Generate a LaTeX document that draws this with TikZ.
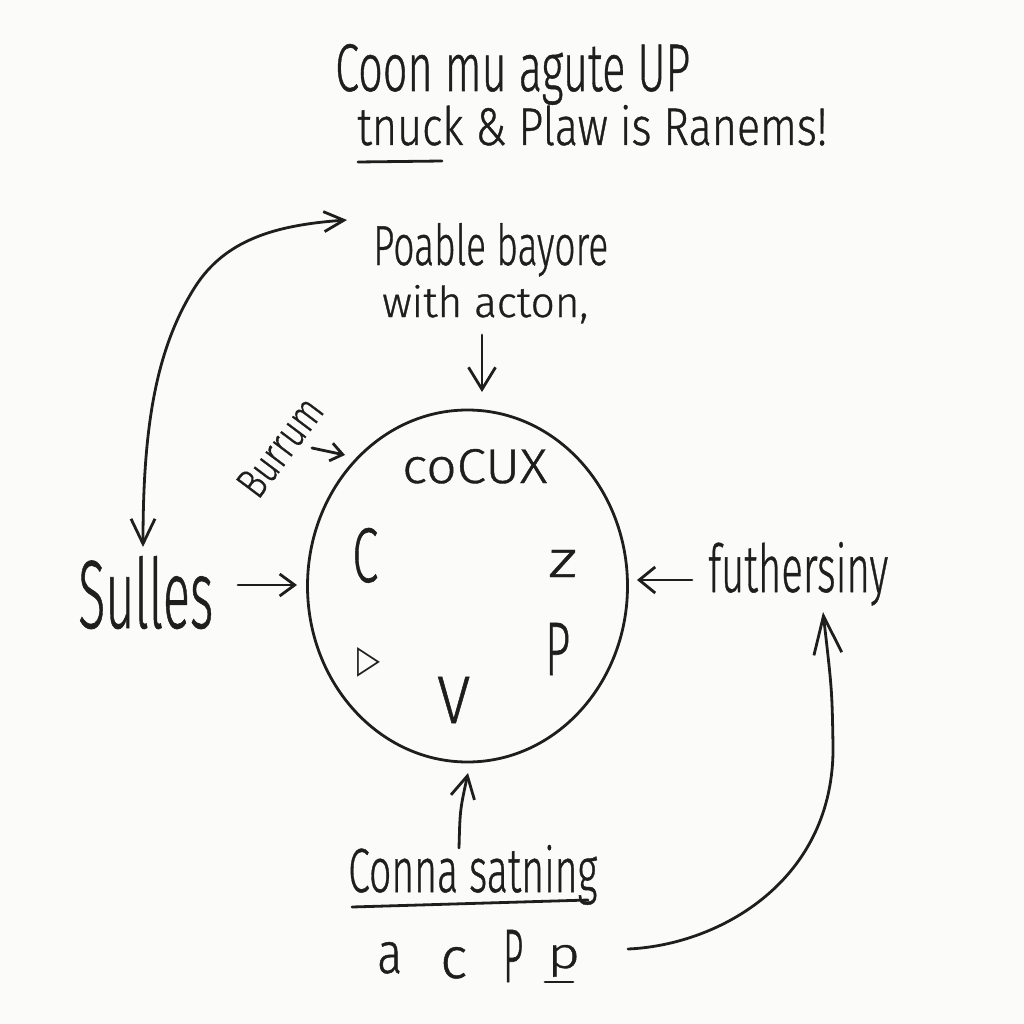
\documentclass[tikz,border=0pt]{standalone}
\usepackage{fontspec}
\setmainfont{Fira Sans Light}[FakeBold=0.8]
\newfontfamily\symfont{DejaVu Sans}
\usetikzlibrary{arrows.meta,shapes.geometric}
\definecolor{ink}{HTML}{1E1E1E}
\definecolor{paper}{HTML}{FBFBF9}
\newcommand{\hw}[3]{\resizebox{#1pt}{#2pt}{#3}}
\begin{document}
\begin{tikzpicture}[x=1pt,y=-1pt,
  txt/.style={inner sep=0pt, anchor=base west, text=ink},
  stroke/.style={draw=ink, line width=2.8pt, line cap=round, line join=round},
  barb/.style 2 args={-{Straight Barb[length=#1pt,width=#2pt]}}]
\fill[paper] (0,0) rectangle (1024,1024);
\useasboundingbox (0,0) rectangle (1024,1024);

% title
\node[txt] (t1) at (335,91) {\hw{355}{47}{Coon mu agute UP}};
\node[txt] (t2) at (357,145) {\hw{470}{40}{tnuck \& Plaw is Ranems!}};
\draw[stroke] ([shift={(1,17)}]t2.base west) -- ([shift={(85,16)}]t2.base west);

% top label
\node[txt] (p1) at (373,265) {\hw{235}{42}{Poable bayore}};
\node[txt] (p2) at (382,317) {\hw{206}{32}{with acton,}};

% circle
\node[draw=ink, line width=2.8pt, ellipse, minimum width=320pt, minimum height=352pt, inner sep=0pt] (circ) at (467.5,586) {};

\node[txt] (cx) at (402,483) {\hw{145}{34}{coCUX}};
\node[txt] (cC) at (352,582) {\hw{26}{54}{C}};
\node[txt] (cz) at (548,577) {\hw{29}{27}{z}};
\node[txt] (cP) at (545,675) {\hw{25}{52}{P}};
\node[txt] (cV) at (437,723) {\hw{33}{46}{V}};
\node[txt] (ct) at (357,672) {\hw{23}{25}{\symfont ▷}};

% Burrum
\node[text=ink, inner sep=0pt, rotate=53] (bur) at (280,447) {\hw{112}{30}{Burrum}};
\coordinate (burA) at (312,448);
\coordinate (burB) at (345,455);
\draw[stroke, barb={12}{18}] (burA) -- (burB);

% Sulles
\node[txt] (sul) at (78,628) {\hw{135}{72}{Sulles}};
\coordinate (sulA) at (238,585);
\coordinate (sulB) at (297,585);
\draw[stroke, barb={15}{22}] (sulA) -- (sulB);

% futhersiny
\node[txt] (fut) at (708,592) {\hw{180}{50}{futhersiny}};
\coordinate (futA) at (692,580);
\coordinate (futB) at (637,580);
\draw[stroke, barb={16}{26}] (futA) -- (futB);

% top arrow
\coordinate (topA) at (482,335);
\coordinate (topB) at (482,392);
\draw[stroke, barb={22}{27}] (topA) -- (topB);

% Conna satning
\node[txt] (con) at (348,892) {\hw{249}{47}{Conna satning}};
\draw[stroke] ([shift={(4,15)}]con.base west) -- ([shift={(240,8)}]con.base west);
\coordinate (conA) at (459,848);
\coordinate (conB) at (468,773);
\draw[stroke, barb={22}{24}] (conA) .. controls (460,810) .. (conB);

% bottom letters
\node[txt] (la) at (377,973) {\hw{25}{31}{a}};
\node[txt] (lc) at (440,978) {\hw{27}{31}{c}};
\node[txt] (lP) at (503,982) {\hw{20}{52}{P}};
\node[txt] (lp) at (547,968) {\hw{33}{23}{p}};
\draw[stroke] (545,982) -- (573,982);

% right curved arrow
\coordinate (rA) at (628,949);
\coordinate (rM) at (833,745);
\coordinate (rB) at (823,612);
\draw[stroke, barb={38}{28}] (rA) .. controls (720,945) and (835,880) .. (rM) .. controls (832,690) .. (rB);

% left double arrow
\coordinate (lA) at (143,547);
\coordinate (lM) at (195,287);
\coordinate (lB) at (347,220);
\draw[stroke, {Straight Barb[length=25pt,width=24pt]}-{Straight Barb[length=20pt,width=20pt]}]
  (lA) .. controls (143,430) and (155,350) .. (lM) .. controls (225,240) and (275,225) .. (lB);
\end{tikzpicture}
\end{document}
